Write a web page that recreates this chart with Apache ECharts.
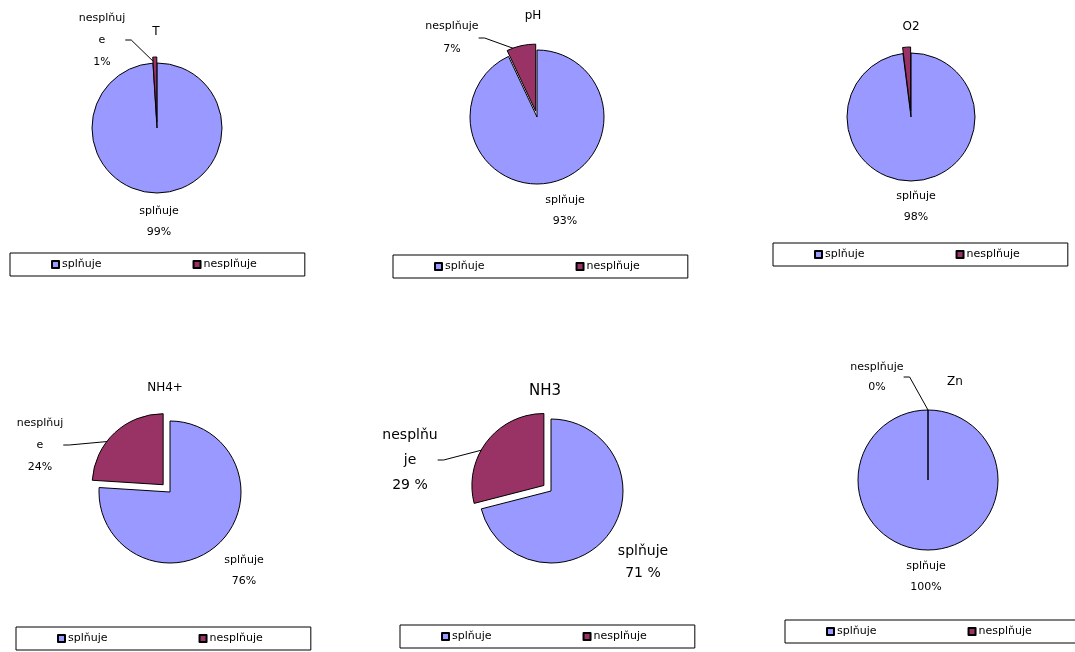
<!DOCTYPE html>
<html>
<head>
<meta charset="utf-8">
<title>Splňuje / nesplňuje</title>
<script src="https://cdn.jsdelivr.net/npm/echarts@6/dist/echarts.min.js"></script>
<style>
  html, body { margin: 0; padding: 0; background: #fff; }
  #chart { width: 1075px; height: 652px; }
</style>
</head>
<body>
<div id="chart"></div>
<script>
// Parameters shown one pie each
const parameters = ['T', 'pH', 'O2', 'NH4+', 'NH3', 'Zn'];
const categories = ['splňuje', 'nesplňuje'];

// Share of samples that meet / do not meet the limit (%)
const splnuje   = [99, 93, 98, 76, 71, 100];
const nesplnuje = [1, 7, 2, 24, 29, 0];

// Text lines of the "nesplňuje" label (wrapped as drawn)
const failLabelLines = [
  ['nesplňuj', 'e'],
  ['nesplňuje'],
  ['nesplňuje'],
  ['nesplňuj', 'e'],
  ['nesplňu', 'je'],
  ['nesplňuje']
];

const BLUE = '#9999FF';
const WINE = '#993366';
const FONT = '"DejaVu Sans", Verdana, sans-serif';

// Layout of every pie panel
const panels = [
  { c: [157, 128], r: 65, off: 6,  title: [156, 26],  fs: 11, tfs: 12, lh: 22,
    lab: [[159, 222], [102, 40]], showFail: true,  legend: [10, 253] },
  { c: [537, 117], r: 67, off: 6,  title: [533, 10],  fs: 11, tfs: 12, lh: 23,
    lab: [[565, 211], [452, 38]], showFail: true,  legend: [393, 255] },
  { c: [911, 117], r: 64, off: 6,  title: [911, 21],  fs: 11, tfs: 12, lh: 22,
    lab: [[916, 207], [860, 30]], showFail: false, legend: [773, 243] },
  { c: [170, 492], r: 71, off: 10, title: [165, 382], fs: 11, tfs: 12, lh: 22,
    lab: [[244, 571], [40, 445]], showFail: true,  legend: [16, 627] },
  { c: [551, 491], r: 72, off: 9,  title: [545, 384], fs: 14, tfs: 15, lh: 25,
    lab: [[643, 562], [410, 460]], showFail: true,  legend: [400, 625] },
  { c: [928, 480], r: 70, off: 0,  title: [955, 376], fs: 11, tfs: 12, lh: 20,
    lab: [[926, 577], [877, 377]], showFail: true,  legend: [785, 620] }
];

function pctText(p, sep) { return Math.round(p.percent) + sep; }

// Visible pies (the "nesplňuje" slice is pulled out)
const pieSeries = parameters.map(function (name, i) {
  const P = panels[i];
  return {
    type: 'pie',
    name: name,
    center: P.c,
    radius: P.r,
    startAngle: 90,
    clockwise: true,
    selectedMode: 'single',
    selectedOffset: P.off,
    emphasis: { disabled: true },
    itemStyle: { borderColor: '#000', borderWidth: 1 },
    label: { show: false },
    labelLine: { show: false },
    data: [
      { name: categories[0], value: splnuje[i], itemStyle: { color: BLUE } },
      { name: categories[1], value: nesplnuje[i], itemStyle: { color: WINE }, selected: P.off > 0 }
    ]
  };
});

// Same pies, transparent, carrying the data labels and leader lines
const labelSeries = parameters.map(function (name, i) {
  const P = panels[i];
  const failText = failLabelLines[i];
  const sep = P.fs > 12 ? ' %' : '%';
  return {
    type: 'pie',
    name: name + ' ',
    center: P.c,
    radius: P.r,
    startAngle: 90,
    clockwise: true,
    silent: true,
    avoidLabelOverlap: false,
    emphasis: { disabled: true },
    itemStyle: { color: 'rgba(0,0,0,0)', borderWidth: 0 },
    label: {
      show: true,
      fontFamily: FONT,
      fontSize: P.fs,
      lineHeight: P.fs > 12 ? 22 : 21,
      color: '#000',
      align: 'center',
      formatter: function (p) {
        const lines = p.dataIndex === 0 ? [categories[0]] : failText;
        return lines.concat([pctText(p, sep)]).join('\n');
      }
    },
    labelLine: { show: true, length: 6, length2: 6, lineStyle: { color: '#000', width: 1 } },
    labelLayout: function (p) {
      const pos = P.lab[p.dataIndex];
      return { x: pos[0], y: pos[1], align: 'center', verticalAlign: 'middle' };
    },
    data: [
      { name: categories[0], value: splnuje[i], labelLine: { show: false } },
      { name: categories[1], value: nesplnuje[i],
        label: { show: P.showFail, lineHeight: P.lh }, labelLine: { show: P.showFail } }
    ]
  };
});

const titles = parameters.map(function (name, i) {
  const P = panels[i];
  return {
    text: name,
    left: P.title[0],
    top: P.title[1],
    textAlign: 'center',
    padding: 0,
    textStyle: { fontFamily: FONT, fontSize: P.tfs, fontWeight: 'normal', color: '#000' }
  };
});

const legends = parameters.map(function (name, i) {
  const P = panels[i];
  return {
    data: categories,
    left: P.legend[0],
    top: P.legend[1],
    width: 400,
    orient: 'horizontal',
    icon: 'rect',
    itemWidth: 7,
    itemHeight: 7,
    itemGap: 91,
    padding: [6, 48, 6, 41],
    borderColor: '#000',
    borderWidth: 1,
    selectedMode: false,
    textStyle: { fontFamily: FONT, fontSize: 11, color: '#000', padding: [0, 0, 0, -2] }
  };
});

const chart = echarts.init(document.getElementById('chart'), null, { renderer: 'canvas' });
chart.setOption({
  backgroundColor: '#fff',
  animation: false,
  title: titles,
  legend: legends,
  series: pieSeries.concat(labelSeries)
});
</script>
</body>
</html>
